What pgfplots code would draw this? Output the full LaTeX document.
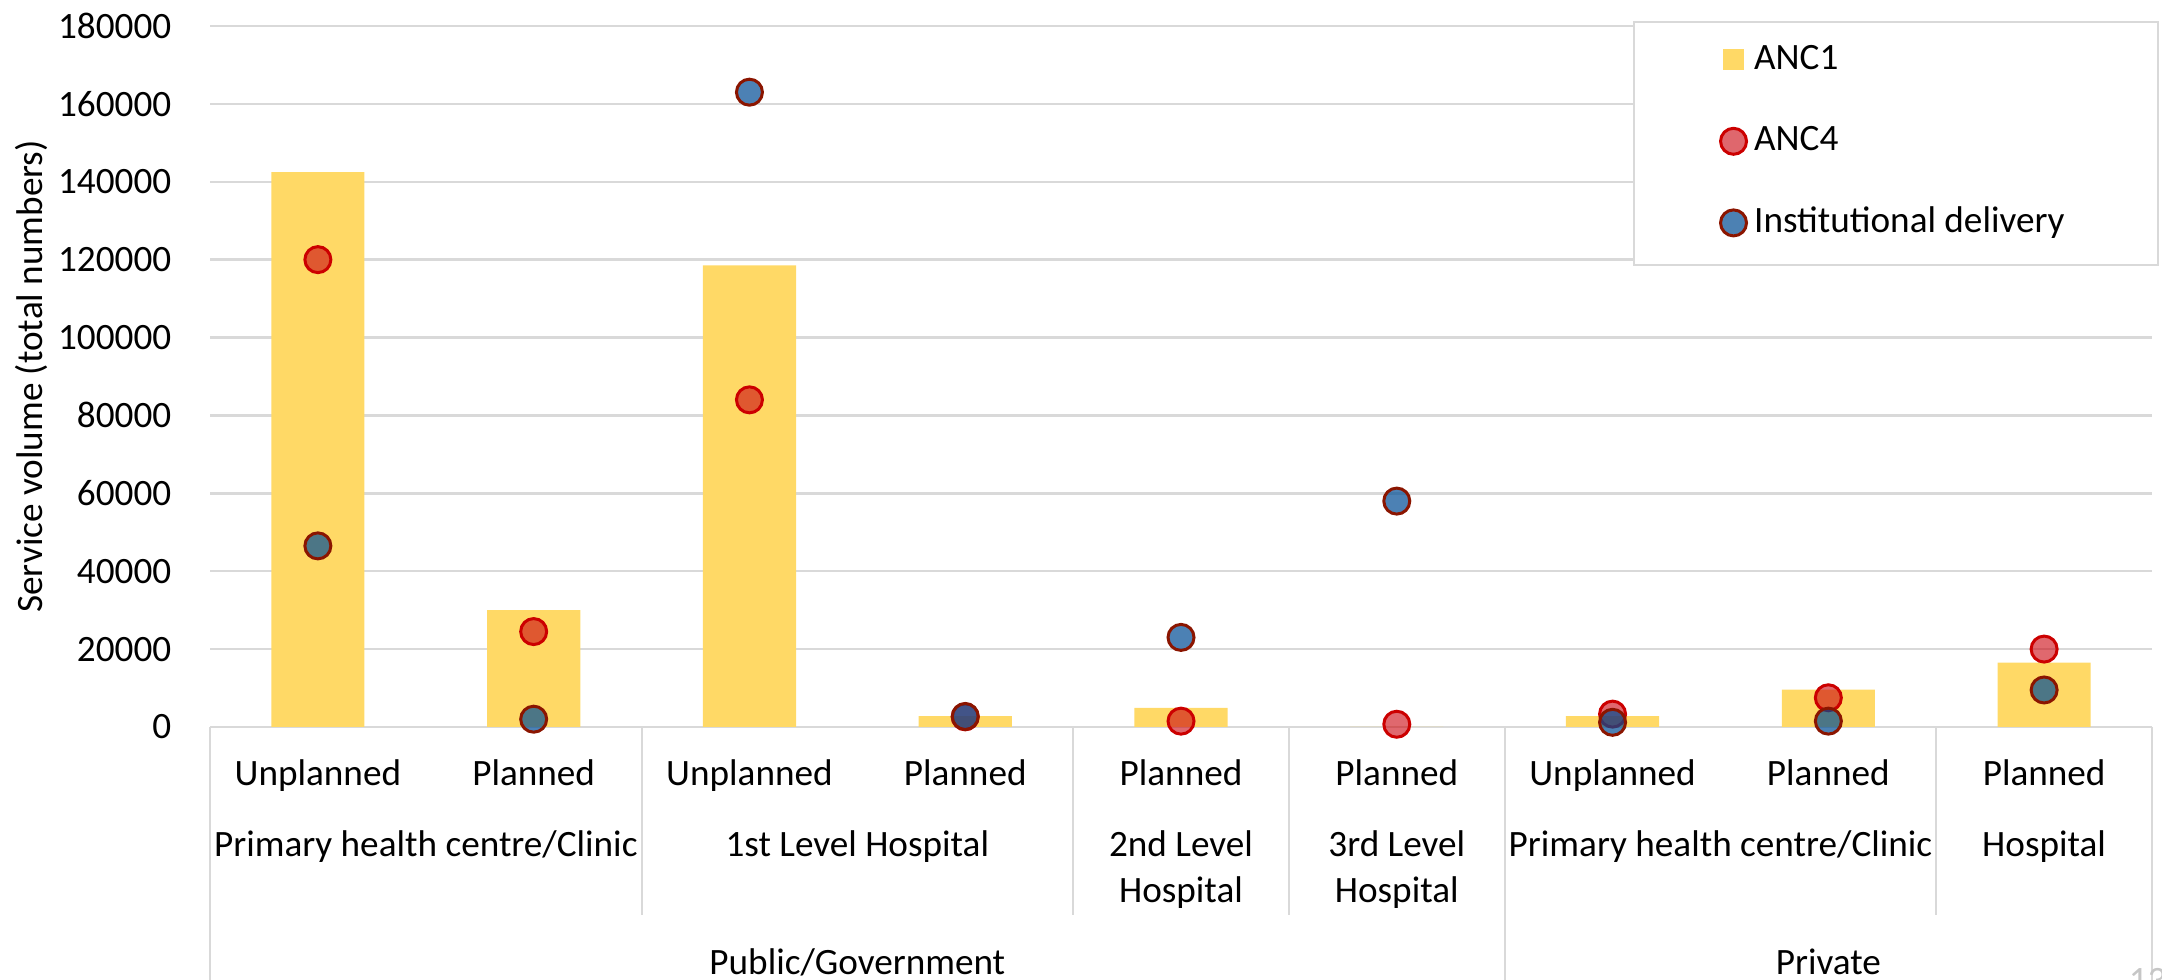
\documentclass[border=0pt]{standalone}
\usepackage{fontspec}
\setmainfont{Carlito}
\usepackage{pgfplots}
\pgfplotsset{compat=1.18}

\definecolor{ancone}{RGB}{255,217,102}
\definecolor{ancfour}{RGB}{203,3,13}
\definecolor{ancfouredge}{RGB}{204,0,0}
\definecolor{deliv}{RGB}{0,76,148}
\definecolor{delivedge}{RGB}{139,21,0}
\definecolor{gridgray}{RGB}{217,217,217}

\pgfplotsset{
  dot legend/.style={legend image code/.code={\draw[##1] plot coordinates {(0pt,0pt)};}},
  square legend/.style={legend image code/.code={\fill[ancone] (-2.65pt,-2.65pt) rectangle (2.65pt,2.65pt);}},
}

\begin{document}
\begin{tikzpicture}[font=\fontsize{9.3}{11}\selectfont]
\useasboundingbox (0,0) rectangle (540.5pt,245pt);
\begin{axis}[
  at={(52.5pt,63.25pt)}, anchor=south west,
  scale only axis, width=485.5pt, height=175.25pt,
  xmin=-0.5, xmax=8.5, ymin=0, ymax=180000,
  clip=false,
  axis x line*=bottom, axis y line*=left,
  x axis line style={draw=gridgray, line width=0.6pt},
  y axis line style={draw=none},
  major tick length=0pt,
  xtick={0,...,8},
  xticklabels={Unplanned,Planned,Unplanned,Planned,Planned,Planned,Unplanned,Planned,Planned},
  xticklabel style={anchor=base, yshift=-14.75pt, inner sep=0pt},
  ytick={0,20000,...,180000},
  yticklabel style={anchor=east, inner xsep=0pt},
  yticklabel shift=9.5pt,
  scaled y ticks=false,
  /pgf/number format/.cd, fixed, 1000 sep={}, assume math mode=true,
  /pgfplots/.cd,
  ymajorgrids,
  grid style={draw=gridgray, line width=0.6pt},
  legend cell align=left,
  legend style={draw=none, fill=none, at={(0.7774,0.8355)}, anchor=west,
    row sep=11.9pt, inner sep=0pt,
    nodes={inner xsep=1.9pt, inner ysep=0pt, text height=6.6pt, text depth=1.9pt}},
]
% ANC1 service volume (bars)
\addplot[ybar, bar shift=0pt, bar width=23.3pt, fill=ancone, draw=none, square legend]
  coordinates {(0,142500) (1,30000) (2,118500) (3,2800) (4,4900) (5,0) (6,2800) (7,9600) (8,16500)};
\addlegendentry{ANC1}
% ANC4
\addplot[only marks, mark=*, mark size=3.25pt, dot legend,
  mark options={fill=ancfour, fill opacity=0.6, draw=ancfouredge, line width=0.75pt}]
  coordinates {(0,120000) (1,24500) (2,84000) (3,2600) (4,1500) (5,700) (6,3300) (7,7500) (8,20000)};
\addlegendentry{ANC4}
% Institutional delivery
\addplot[only marks, mark=*, mark size=3.25pt, dot legend,
  mark options={fill=deliv, fill opacity=0.7, draw=delivedge, line width=0.75pt}]
  coordinates {(0,46500) (1,2000) (2,163000) (3,2700) (4,23000) (5,58000) (6,1200) (7,1500) (8,9500)};
\addlegendentry{Institutional delivery}

% legend frame
\draw[gridgray, fill=white, line width=0.6pt] (rel axis cs:0.7333,0.659) rectangle (rel axis cs:1.0031,1.0057);

% axis title
\node[rotate=90] at ([xshift=-44.75pt]rel axis cs:0,0.5) {Service volume (total numbers)};

% group separators (short: facility level, long: sector)
\draw[gridgray, line width=0.5pt] (axis cs:1.5,0) -- ++(0pt,-47pt);
\draw[gridgray, line width=0.5pt] (axis cs:3.5,0) -- ++(0pt,-47pt);
\draw[gridgray, line width=0.5pt] (axis cs:4.5,0) -- ++(0pt,-47pt);
\draw[gridgray, line width=0.5pt] (axis cs:7.5,0) -- ++(0pt,-47pt);
\draw[gridgray, line width=0.5pt] (axis cs:-0.5,0) -- ++(0pt,-70pt);
\draw[gridgray, line width=0.5pt] (axis cs:5.5,0) -- ++(0pt,-70pt);
\draw[gridgray, line width=0.5pt] (axis cs:8.5,0) -- ++(0pt,-70pt);

% facility level labels
\node[anchor=base, inner sep=0pt] at ([yshift=-32.4pt]axis cs:0.5,0) {Primary health centre/Clinic};
\node[anchor=base, inner sep=0pt] at ([yshift=-32.4pt]axis cs:2.5,0) {1st Level Hospital};
\node[anchor=base, inner sep=0pt] at ([yshift=-32.4pt]axis cs:4,0) {2nd Level};
\node[anchor=base, inner sep=0pt] at ([yshift=-43.9pt]axis cs:4,0) {Hospital};
\node[anchor=base, inner sep=0pt] at ([yshift=-32.4pt]axis cs:5,0) {3rd Level};
\node[anchor=base, inner sep=0pt] at ([yshift=-43.9pt]axis cs:5,0) {Hospital};
\node[anchor=base, inner sep=0pt] at ([yshift=-32.4pt]axis cs:6.5,0) {Primary health centre/Clinic};
\node[anchor=base, inner sep=0pt] at ([yshift=-32.4pt]axis cs:8,0) {Hospital};

% sector labels
\node[anchor=base, inner sep=0pt] at ([yshift=-61.9pt]axis cs:2.5,0) {Public/Government};
\node[anchor=base, inner sep=0pt] at ([yshift=-61.9pt]axis cs:7,0) {Private};
\end{axis}
\node[anchor=north west, inner sep=0pt, text=gray!45] at (532pt,3pt) {13};
\end{tikzpicture}
\end{document}
